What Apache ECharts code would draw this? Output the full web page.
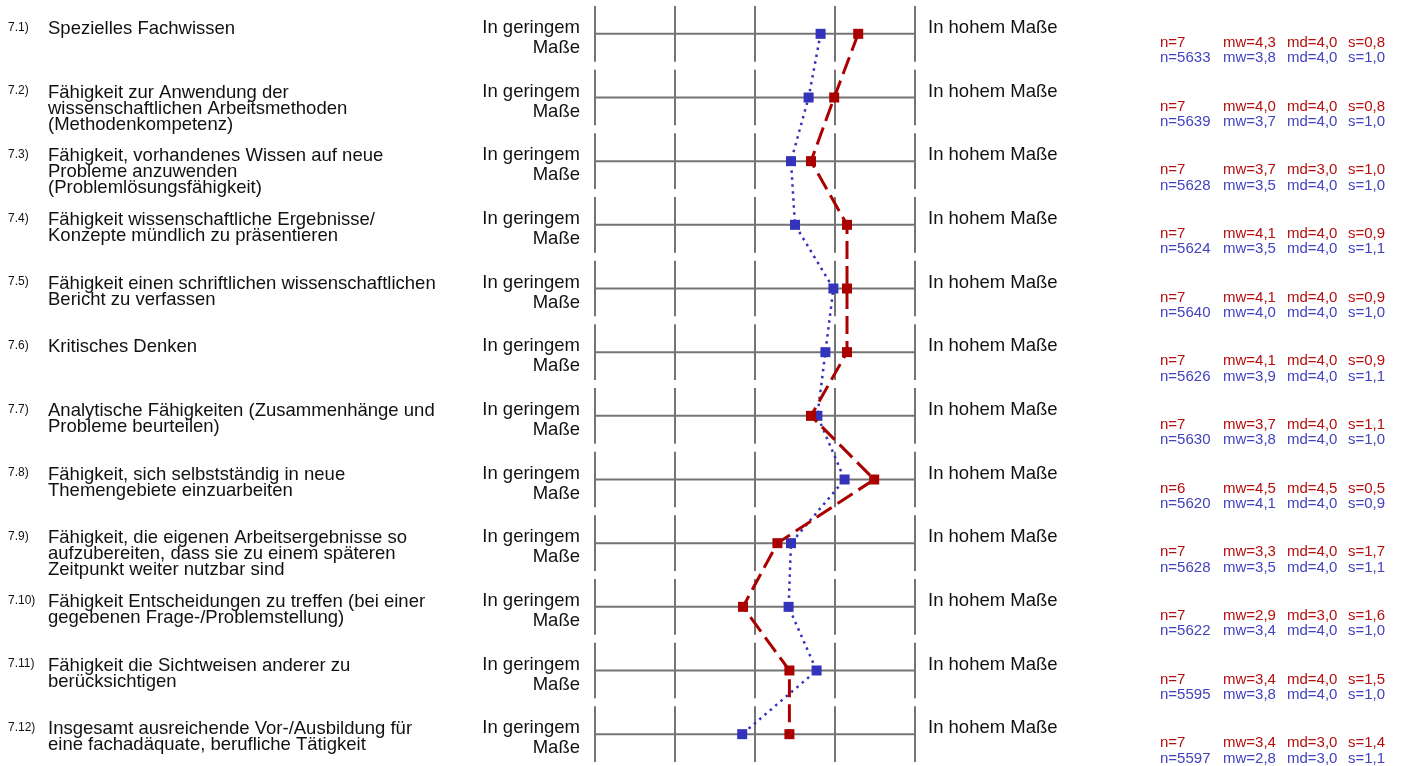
<!DOCTYPE html>
<html>
<head>
<meta charset="utf-8">
<script src="https://cdn.jsdelivr.net/npm/echarts@6/dist/echarts.min.js"></script>
<style>
html,body{margin:0;padding:0;background:#fff;}
#chart{width:1404px;height:766px;}
</style>
</head>
<body>
<div id="chart"></div>
<script>
// ---- data ----
var itemNumbers = ['7.1)','7.2)','7.3)','7.4)','7.5)','7.6)','7.7)','7.8)','7.9)','7.10)','7.11)','7.12)'];
var itemLabels = [
  'Spezielles Fachwissen',
  'Fähigkeit zur Anwendung der\nwissenschaftlichen Arbeitsmethoden\n(Methodenkompetenz)',
  'Fähigkeit, vorhandenes Wissen auf neue\nProbleme anzuwenden\n(Problemlösungsfähigkeit)',
  'Fähigkeit wissenschaftliche Ergebnisse/\nKonzepte mündlich zu präsentieren',
  'Fähigkeit einen schriftlichen wissenschaftlichen\nBericht zu verfassen',
  'Kritisches Denken',
  'Analytische Fähigkeiten (Zusammenhänge und\nProbleme beurteilen)',
  'Fähigkeit, sich selbstständig in neue\nThemengebiete einzuarbeiten',
  'Fähigkeit, die eigenen Arbeitsergebnisse so\naufzubereiten, dass sie zu einem späteren\nZeitpunkt weiter nutzbar sind',
  'Fähigkeit Entscheidungen zu treffen (bei einer\ngegebenen Frage-/Problemstellung)',
  'Fähigkeit die Sichtweisen anderer zu\nberücksichtigen',
  'Insgesamt ausreichende Vor-/Ausbildung für\neine fachadäquate, berufliche Tätigkeit'
];
var leftPole = 'In geringem\nMaße';
var rightPole = 'In hohem Maße';
var scaleTicks = [1, 2, 3, 4, 5];

// plotted profile values
var groupValues = [4.29, 3.99, 3.70, 4.15, 4.15, 4.15, 3.70, 4.49, 3.28, 2.85, 3.43, 3.43];
var totalValues = [3.82, 3.67, 3.45, 3.50, 3.98, 3.88, 3.78, 4.12, 3.45, 3.42, 3.77, 2.84];

// statistics texts
var groupN  = [7, 7, 7, 7, 7, 7, 7, 6, 7, 7, 7, 7];
var groupMw = [4.3, 4.0, 3.7, 4.1, 4.1, 4.1, 3.7, 4.5, 3.3, 2.9, 3.4, 3.4];
var groupMd = [4.0, 4.0, 3.0, 4.0, 4.0, 4.0, 4.0, 4.5, 4.0, 3.0, 4.0, 3.0];
var groupS  = [0.8, 0.8, 1.0, 0.9, 0.9, 0.9, 1.1, 0.5, 1.7, 1.6, 1.5, 1.4];
var totalN  = [5633, 5639, 5628, 5624, 5640, 5626, 5630, 5620, 5628, 5622, 5595, 5597];
var totalMw = [3.8, 3.7, 3.5, 3.5, 4.0, 3.9, 3.8, 4.1, 3.5, 3.4, 3.8, 2.8];
var totalMd = [4.0, 4.0, 4.0, 4.0, 4.0, 4.0, 4.0, 4.0, 4.0, 4.0, 4.0, 3.0];
var totalS  = [1.0, 1.0, 1.0, 1.1, 1.0, 1.1, 1.0, 0.9, 1.1, 1.0, 1.0, 1.1];

// ---- styles ----
var RED = '#aa0000', BLUE = '#3333bb';
var RED_TXT = '#b50d0d', BLUE_TXT = '#4242c0';
var GRID_C = '#747474';
var FONT = "'Liberation Sans', Arial, sans-serif";

function fmt(v){ return v.toFixed(1).replace('.', ','); }

var rows = itemLabels.map(function(_, i){ return [i + 1]; });

function renderRow(params, api){
  var r = api.value(0);
  var i = r - 1;
  var pL = api.coord([1, r]);
  var pR = api.coord([5, r]);
  var yc = pL[1];
  var half = api.size([0, 0.4375])[1];
  var ch = [];
  ch.push({type:'line', shape:{x1:pL[0], y1:yc, x2:pR[0], y2:yc}, style:{stroke:GRID_C, lineWidth:2}});
  scaleTicks.forEach(function(t){
    var p = api.coord([t, r]);
    ch.push({type:'line', shape:{x1:p[0], y1:yc-half, x2:p[0], y2:yc+half}, style:{stroke:GRID_C, lineWidth:2}});
  });
  ch.push({type:'text', x:8, y:yc-6.5, style:{text:itemNumbers[i], fill:'#111', fontSize:12, fontFamily:FONT, align:'left', verticalAlign:'middle'}});
  ch.push({type:'text', x:48, y:yc-13, style:{text:itemLabels[i], fill:'#111', fontSize:18.5, lineHeight:16, fontFamily:FONT, align:'left', verticalAlign:'top'}});
  ch.push({type:'text', x:pL[0]-15, y:yc-16, style:{text:leftPole, fill:'#111', fontSize:18.5, lineHeight:20, fontFamily:FONT, align:'right', verticalAlign:'top'}});
  ch.push({type:'text', x:pR[0]+13, y:yc-6, style:{text:rightPole, fill:'#111', fontSize:18.5, fontFamily:FONT, align:'left', verticalAlign:'middle'}});
  var cols = [1160, 1223, 1287, 1348];
  var gTxt = ['n=' + groupN[i], 'mw=' + fmt(groupMw[i]), 'md=' + fmt(groupMd[i]), 's=' + fmt(groupS[i])];
  var tTxt = ['n=' + totalN[i], 'mw=' + fmt(totalMw[i]), 'md=' + fmt(totalMd[i]), 's=' + fmt(totalS[i])];
  cols.forEach(function(x, k){
    ch.push({type:'text', x:x, y:yc+9, style:{text:gTxt[k], fill:RED_TXT, fontSize:15, fontFamily:FONT, align:'left', verticalAlign:'middle'}});
    ch.push({type:'text', x:x, y:yc+24.5, style:{text:tTxt[k], fill:BLUE_TXT, fontSize:15, fontFamily:FONT, align:'left', verticalAlign:'middle'}});
  });
  return {type:'group', children:ch};
}

var chart = echarts.init(document.getElementById('chart'), null, {renderer:'canvas'});
chart.setOption({
  animation:false,
  backgroundColor:'#ffffff',
  grid:{left:595, width:320, top:2, height:768, containLabel:false},
  xAxis:{type:'value', min:1, max:5, show:false},
  yAxis:{type:'value', min:0.5, max:12.5, inverse:true, show:false},
  series:[
    {type:'custom', renderItem:renderRow, data:rows, encode:{y:0}, silent:true, z:1},
    {type:'line', name:'total', data:totalValues.map(function(v, i){ return [v, i + 1]; }),
      symbol:'rect', symbolSize:10, showAllSymbol:true, z:3,
      lineStyle:{color:BLUE, width:2.5, type:[2.5, 4.5]},
      itemStyle:{color:BLUE}},
    {type:'line', name:'group', data:groupValues.map(function(v, i){ return [v, i + 1]; }),
      symbol:'rect', symbolSize:10, showAllSymbol:true, z:4,
      lineStyle:{color:RED, width:3, type:[18, 7]},
      itemStyle:{color:RED}}
  ]
});
</script>
</body>
</html>
